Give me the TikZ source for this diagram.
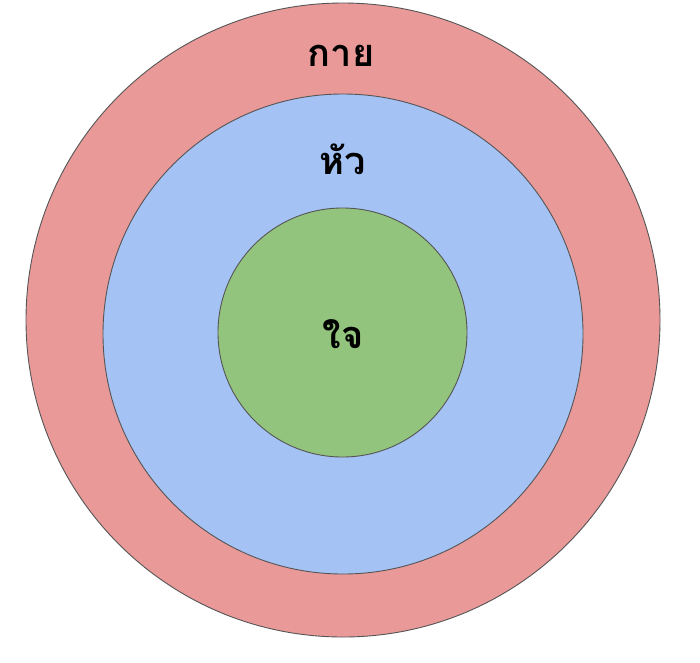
\documentclass[tikz,border=0pt]{standalone}
\usepackage{fontspec}
\newfontfamily\thaifont[Script=Thai]{Loma}
\definecolor{outerred}{HTML}{EA9999}
\definecolor{midblue}{HTML}{A4C2F4}
\definecolor{innergreen}{HTML}{93C47D}
\definecolor{rim}{HTML}{555555}
\begin{document}
\begin{tikzpicture}[x=1pt,y=-1pt,
  ring/.style={draw=rim,line width=0.9pt},
  lbl/.style={font=\thaifont\bfseries\fontsize{38}{44}\selectfont,anchor=base,inner sep=0pt}]
\useasboundingbox (0,0) rectangle (700,662);
\fill[white] (0,0) rectangle (700,662);
\node[ring,fill=outerred,circle,minimum size=634pt,inner sep=0pt] (outer) at (343,320) {};
\node[ring,fill=midblue,circle,minimum size=480pt,inner sep=0pt] (mid) at (343,334) {};
\node[ring,fill=innergreen,circle,minimum size=249pt,inner sep=0pt] (inner) at (342.5,332.5) {};
\node[lbl] (t1) at (341,66) {กาย};
\node[lbl] (t2) at (343,174) {หัว};
\node[lbl] (t3) at (343,348) {ใจ};
\end{tikzpicture}
\end{document}
